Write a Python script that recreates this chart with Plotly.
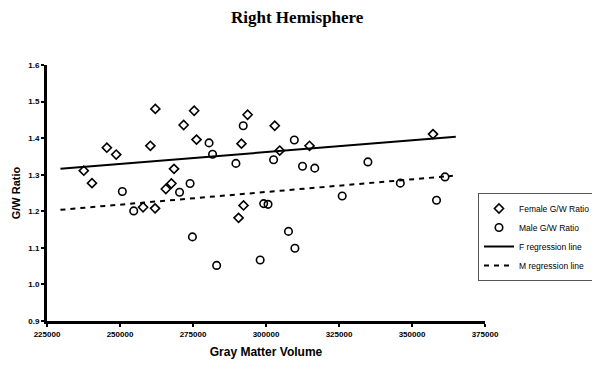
import plotly.graph_objects as go

# Female G/W ratio (diamonds)
female_volume = [237600, 240400, 245500, 248700, 257900, 260400, 262000, 262100,
                 265700, 267600, 268500, 271800, 275400, 276200, 290600, 291600,
                 292300, 293700, 303000, 304700, 314900, 357200]
female_ratio = [1.311, 1.277, 1.374, 1.355, 1.211, 1.379, 1.208, 1.480,
                1.261, 1.276, 1.316, 1.436, 1.475, 1.396, 1.182, 1.385,
                1.216, 1.464, 1.434, 1.366, 1.379, 1.411]

# Male G/W ratio (circles)
male_volume = [250800, 254700, 270400, 274000, 274800, 280500, 281700, 283100,
               289700, 292200, 298000, 299200, 300700, 302600, 307700, 309700,
               309900, 312500, 316700, 326100, 334900, 346000, 358400, 361300]
male_ratio = [1.254, 1.201, 1.252, 1.276, 1.130, 1.387, 1.356, 1.052,
              1.331, 1.434, 1.067, 1.221, 1.219, 1.341, 1.145, 1.395,
              1.099, 1.323, 1.318, 1.242, 1.335, 1.277, 1.230, 1.294]

# Regression lines (endpoints)
f_line_x = [229600, 365000]
f_line_y = [1.316, 1.404]
m_line_x = [229600, 364000]
m_line_y = [1.204, 1.297]

x_ticks = [225000, 250000, 275000, 300000, 325000, 350000, 375000]
y_ticks = [0.9, 1.0, 1.1, 1.2, 1.3, 1.4, 1.5, 1.6]

fig = go.Figure()
fig.add_trace(go.Scatter(
    x=female_volume, y=female_ratio, mode="markers", name="Female G/W Ratio",
    marker=dict(symbol="diamond-open", size=7, color="black", line=dict(width=1.6, color="black")),
))
fig.add_trace(go.Scatter(
    x=male_volume, y=male_ratio, mode="markers", name="Male G/W Ratio",
    marker=dict(symbol="circle-open", size=7.5, color="black", line=dict(width=1.6, color="black")),
))
fig.add_trace(go.Scatter(
    x=f_line_x, y=f_line_y, mode="lines", name="F regression line",
    line=dict(color="black", width=2),
))
fig.add_trace(go.Scatter(
    x=m_line_x, y=m_line_y, mode="lines", name="M regression line",
    line=dict(color="black", width=2, dash="5px,5px"),
))

fig.update_layout(
    width=600, height=367,
    margin=dict(l=39, r=123, t=57, b=54, autoexpand=False),
    paper_bgcolor="white", plot_bgcolor="white",
    font=dict(family="Liberation Sans, Arial", color="black"),
    title=dict(text="Right Hemisphere", x=0.482, xanchor="center", y=0.975, yanchor="middle",
               font=dict(family="Liberation Serif, Times New Roman", size=17, weight="bold")),
    showlegend=True,
    legend=dict(x=0.984, xanchor="left", y=0.5, yanchor="top",
                bordercolor="#555", borderwidth=1, bgcolor="white",
                font=dict(size=8.5, family="Liberation Sans, Arial"),
                tracegroupgap=0, itemwidth=30),
)
fig.update_xaxes(
    range=[225000, 375000], tickvals=x_ticks, ticktext=[str(v) for v in x_ticks],
    showgrid=False, zeroline=False, showline=True, linecolor="black", linewidth=3,
    ticks="outside", ticklen=3, tickwidth=2, tickcolor="black",
    tickfont=dict(size=8, weight="bold"), automargin=False,
    title=dict(text="Gray Matter Volume", font=dict(size=12, weight="bold"), standoff=11),
)
fig.update_yaxes(
    range=[0.9, 1.6], tickvals=y_ticks, ticktext=[f"{v:.1f}" for v in y_ticks],
    showgrid=False, zeroline=False, showline=True, linecolor="black", linewidth=3,
    ticks="outside", ticklen=3, tickwidth=2, tickcolor="black",
    tickfont=dict(size=8, weight="bold"), automargin=False,
    title=dict(text="G/W Ratio", font=dict(size=11, weight="bold"), standoff=6),
)

fig.write_html("out.html")
